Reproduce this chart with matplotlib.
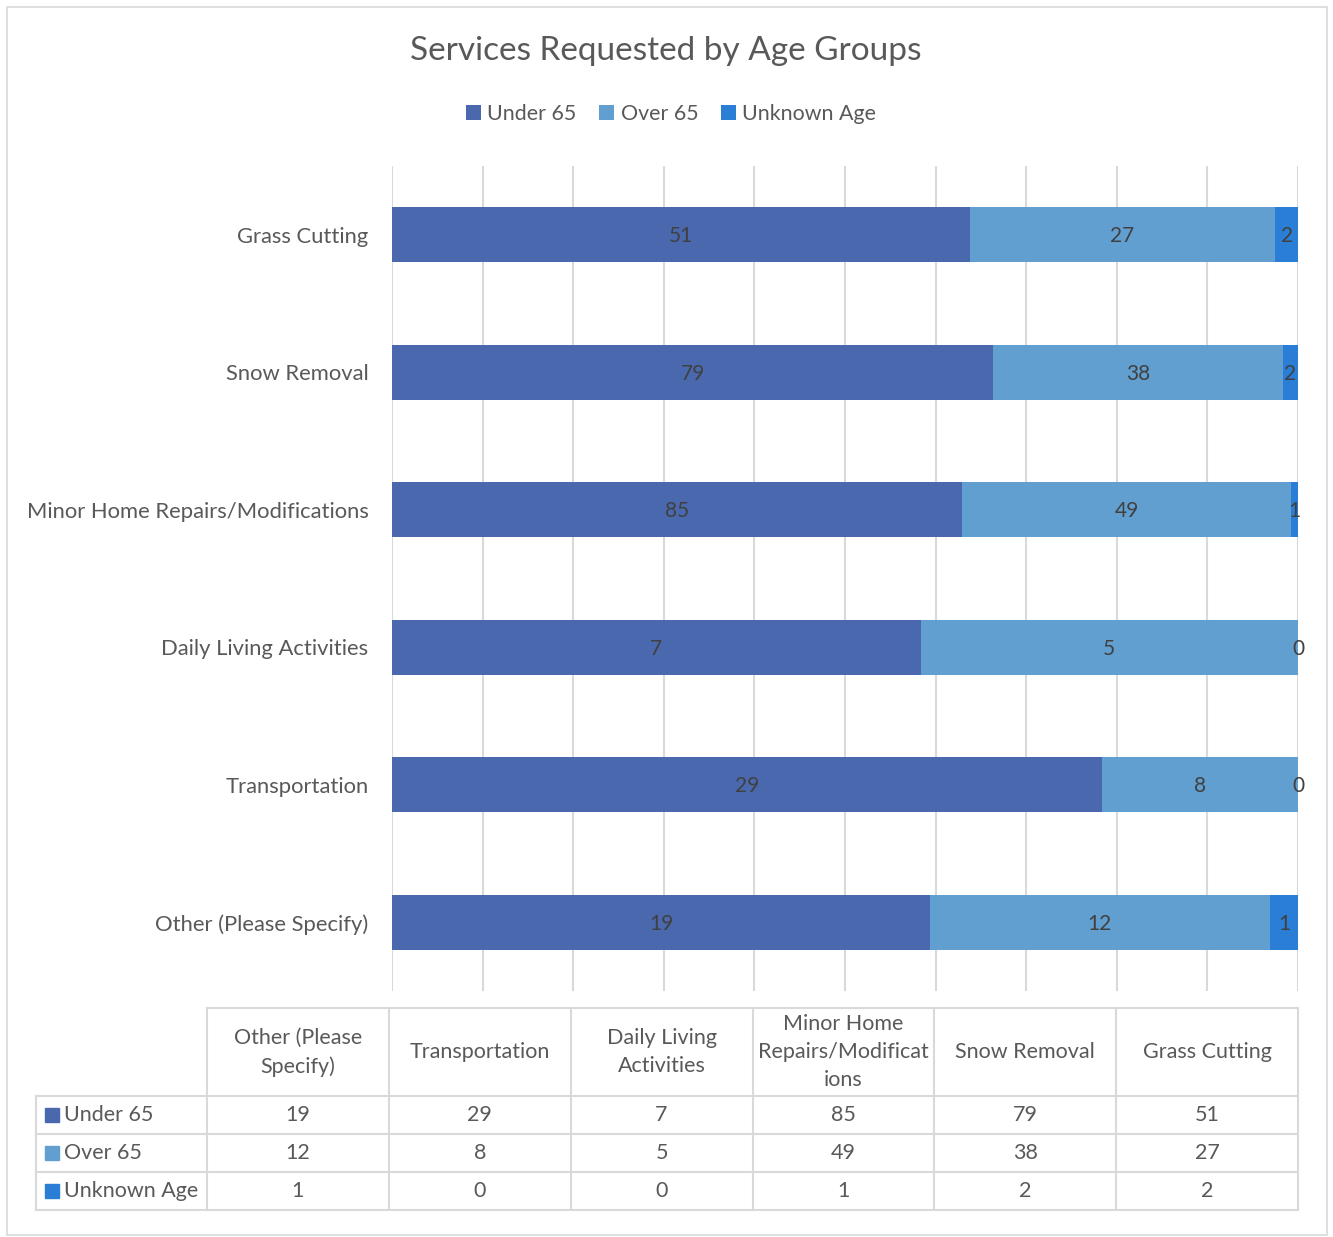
import numpy as np
import matplotlib.pyplot as plt
from matplotlib.patches import Rectangle

plt.rcParams['font.family'] = ['Lato', 'DejaVu Sans']

#
# data (bottom to top on the chart, left to right in the table)
#
categories = ['Other (Please Specify)', 'Transportation', 'Daily Living Activities',
              'Minor Home Repairs/Modifications', 'Snow Removal', 'Grass Cutting']
table_headers = ['Other (Please\nSpecify)', 'Transportation', 'Daily Living\nActivities',
                 'Minor Home\nRepairs/Modificat\nions', 'Snow Removal', 'Grass Cutting']
series = ['Under 65', 'Over 65', 'Unknown Age']
under_65 = [19, 29, 7, 85, 79, 51]
over_65 = [12, 8, 5, 49, 38, 27]
unknown_age = [1, 0, 0, 1, 2, 2]

colors = ['#4A68AE', '#629FD1', '#2A7ED6']
grid_c = '#D9D9D9'
text_c = '#595959'

W, H = 1333, 1237
fig = plt.figure(figsize=(W / 100, H / 100), dpi=100)

#
# stacked 100% bar chart
#
ax = fig.add_axes([392 / W, 1 - 991 / H, 906 / W, 825 / H])
values = np.array([under_65, over_65, unknown_age], dtype=float)
totals = values.sum(axis=0)
shares = values / totals
y = np.arange(len(categories))
left = np.zeros(len(categories))
for i, name in enumerate(series):
    ax.barh(y, shares[i], left=left, height=0.4, color=colors[i], label=name, zorder=3)
    for j in range(len(categories)):
        ax.text(left[j] + shares[i][j] / 2, y[j] - 0.012, '%d' % values[i][j], ha='center',
                va='center', fontsize=15, color='#404040', zorder=4)
    left = left + shares[i]

ax.set_xlim(0, 1)
ax.set_ylim(-0.5, len(categories) - 0.5)
ax.set_xticks(np.linspace(0, 1, 11))
ax.set_xticklabels([])
ax.tick_params(axis='x', length=0)
ax.tick_params(axis='y', length=0, pad=17, labelsize=15.8, labelcolor=text_c)
ax.set_yticks(y)
ax.set_yticklabels(categories)
ax.grid(axis='x', color=grid_c, linewidth=1.5, zorder=0)
for s in ax.spines.values():
    s.set_visible(False)

fig.text(666 / W, 1 - 51 / H, 'Services Requested by Age Groups', ha='center', va='center',
         fontsize=24, color=text_c)
fig.legend(loc='center', bbox_to_anchor=(671 / W, 1 - 114 / H), ncol=3, frameon=False,
           fontsize=15.4, labelcolor=text_c, handlelength=0.7, handleheight=0.7,
           handletextpad=0.3, columnspacing=1.05)

#
# data table below the chart, drawn in pixel coordinates
#
tab = fig.add_axes([0, 0, 1, 1])
tab.set_xlim(0, W)
tab.set_ylim(H, 0)
tab.axis('off')

col_x = np.linspace(207, 1298, len(categories) + 1)
row_y = [1008, 1096, 1134, 1172, 1210]
lab_x0 = 36
lw = 1.5

# outer frame
tab.add_patch(Rectangle((7, 7), 1320, 1228, fill=False, edgecolor=grid_c, linewidth=1.2))

# horizontal lines
tab.plot([col_x[0], col_x[-1]], [row_y[0], row_y[0]], color=grid_c, lw=lw)
for yy in row_y[1:]:
    tab.plot([lab_x0, col_x[-1]], [yy, yy], color=grid_c, lw=lw)
# vertical lines
for xx in col_x:
    tab.plot([xx, xx], [row_y[0], row_y[-1]], color=grid_c, lw=lw)
tab.plot([lab_x0, lab_x0], [row_y[1], row_y[-1]], color=grid_c, lw=lw)

for j, head in enumerate(table_headers):
    cx = (col_x[j] + col_x[j + 1]) / 2
    tab.text(cx, (row_y[0] + row_y[1]) / 2, head, ha='center', va='center', fontsize=15.5,
             color=text_c, linespacing=1.52)
for i, name in enumerate(series):
    cy = (row_y[i + 1] + row_y[i + 2]) / 2
    tab.add_patch(Rectangle((45, cy - 7), 14, 14, color=colors[i]))
    tab.text(64, cy, name, ha='left', va='center', fontsize=15.5, color=text_c)
    for j in range(len(categories)):
        cx = (col_x[j] + col_x[j + 1]) / 2
        tab.text(cx, cy, '%d' % values[i][j], ha='center', va='center', fontsize=15.5,
                 color=text_c)

plt.savefig('out.png', dpi=100)
